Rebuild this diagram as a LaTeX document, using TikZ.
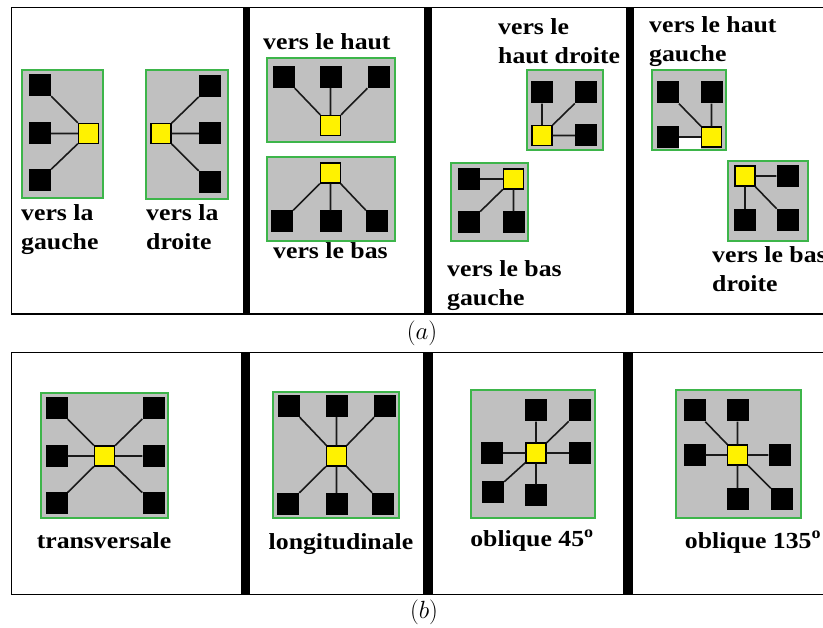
\documentclass[tikz,border=0pt]{standalone}
\usepackage{fontspec}
\newfontfamily\labelfont[FakeStretch=1.12]{Liberation Serif}
\definecolor{modgreen}{HTML}{3DB54A}
\definecolor{modgray}{HTML}{C0C0C0}
\definecolor{hubyellow}{HTML}{FFF200}
\tikzset{
  panel/.style={draw=black, line width=1.6},
  bar/.style={fill=black},
  module/.style={draw=modgreen, fill=modgray, line width=1.4},
  pin/.style={fill=black, minimum size=22, inner sep=0},
  hub/.style={draw=black, fill=hubyellow, line width=1.3, minimum size=20, inner sep=0},
  wire/.style={black!90, line width=1.6},
  lbl/.style={font=\labelfont\bfseries\fontsize{23}{28.5}\selectfont, align=left, inner sep=0, anchor=base west},
  lblc/.style={lbl, anchor=base},
  capt/.style={font=\fontsize{28}{32}\selectfont, inner sep=0}
}

\begin{document}
\begin{tikzpicture}[x=1pt, y=-1pt]
    \useasboundingbox (0,0) rectangle (823,628);
    % cadres
    \draw[panel] (11.5,7.5) rectangle (840,314);
    \draw[panel] (11.5,352.5) rectangle (840,594.5);
    \fill[bar] (243,7) rectangle (250,314);
    \fill[bar] (424,7) rectangle (432,314);
    \fill[bar] (626,7) rectangle (634,314);
    \fill[bar] (241,352) rectangle (250,595);
    \fill[bar] (423,352) rectangle (433,595);
    \fill[bar] (623,352) rectangle (633,595);

    % vers la gauche / vers la droite
    \draw[module] (22,70) rectangle (103,198);
    \node[hub] (lc) at (88.5,133.5) {};
    \node[pin] (l1) at (40,85) {}; \node[pin] (l2) at (40,133.5) {}; \node[pin] (l3) at (40,180) {};
    \draw[wire] (lc) -- (l1) (lc) -- (l2) (lc) -- (l3);
    \draw[module] (146,70) rectangle (228,199);
    \node[hub] (rc) at (161,133.5) {};
    \node[pin] (r1) at (210,86) {}; \node[pin] (r2) at (210,133.5) {}; \node[pin] (r3) at (210,182) {};
    \draw[wire] (rc) -- (r1) (rc) -- (r2) (rc) -- (r3);
    \node[lbl] (txtl) at (21,249.5) {vers la\\gauche};
    \node[lbl] (txtr) at (146,249.5) {vers la\\droite};

    % vers le haut / vers le bas
    \draw[module] (267,58) rectangle (395,142);
    \node[hub] (uc) at (330.5,125.5) {};
    \node[pin] (u1) at (284,77) {}; \node[pin] (u2) at (330.5,77) {}; \node[pin] (u3) at (378.5,77) {};
    \draw[wire] (uc) -- (u1) (uc) -- (u2) (uc) -- (u3);
    \draw[module] (267,157) rectangle (395,241);
    \node[hub] (dc) at (330.5,173) {};
    \node[pin] (d1) at (282,221.5) {}; \node[pin] (d2) at (330.5,221.5) {}; \node[pin] (d3) at (376.5,221.5) {};
    \draw[wire] (dc) -- (d1) (dc) -- (d2) (dc) -- (d3);
    \node[lbl] (txtu) at (263,50) {vers le haut};
    \node[lbl] (txtd) at (273,259) {vers le bas};

    % diagonales montantes
    \draw[module] (527,70) rectangle (603,150);
    \node[hub] (urc) at (542,135.5) {};
    \node[pin] (ur1) at (542,92.5) {}; \node[pin] (ur2) at (586,92.5) {}; \node[pin] (ur3) at (586,135.5) {};
    \draw[wire] (urc) -- (ur1) (urc) -- (ur2) (urc) -- (ur3);
    \draw[module] (451,163) rectangle (528,241);
    \node[hub] (dlc) at (513.5,179) {};
    \node[pin] (dl1) at (469,179) {}; \node[pin] (dl2) at (469,222.5) {}; \node[pin] (dl3) at (513.5,222.5) {};
    \draw[wire] (dlc) -- (dl1) (dlc) -- (dl2) (dlc) -- (dl3);
    \node[lbl] (txtur) at (498,63.5) {vers le\\haut droite};
    \node[lbl] (txtdl) at (447,305.5) {vers le bas\\gauche};

    % diagonales descendantes
    \draw[module] (652,70) rectangle (726,150);
    \fill[white] (679,138) rectangle (701,149.3);
    \node[hub] (ulc) at (711.5,137) {};
    \node[pin] (ul1) at (668,92.5) {}; \node[pin] (ul2) at (711.5,92.5) {}; \node[pin] (ul3) at (668,137) {};
    \draw[wire] (ulc) -- (ul1) (ulc) -- (ul2) (ulc) -- (ul3);
    \draw[module] (728,161) rectangle (808,241);
    \node[hub] (drc) at (745,176) {};
    \node[pin] (dr1) at (787.5,176) {}; \node[pin] (dr2) at (745,220) {}; \node[pin] (dr3) at (787.5,220) {};
    \draw[wire] (drc) -- (dr1) (drc) -- (dr2) (drc) -- (dr3);
    \node[lbl] (txtul) at (649,61.5) {vers le haut\\gauche};
    \node[lbl] (txtdr) at (712,291.5) {vers le bas\\droite};

    \node[capt] (capa) at (422,333) {$(a)$};

    % transversale
    \draw[module] (41,393) rectangle (168,518);
    \node[hub] (tc) at (104.5,456) {};
    \node[pin] (t1) at (56.5,408) {}; \node[pin] (t2) at (153.5,408) {};
    \node[pin] (t3) at (56.5,456) {}; \node[pin] (t4) at (153.5,456) {};
    \node[pin] (t5) at (56.5,503.5) {}; \node[pin] (t6) at (153.5,503.5) {};
    \draw[wire] (tc) -- (t1) (tc) -- (t2) (tc) -- (t3) (tc) -- (t4) (tc) -- (t5) (tc) -- (t6);
    \node[lblc] (txtt) at (104,548) {transversale};

    % longitudinale
    \draw[module] (273,392) rectangle (399,518);
    \node[hub] (gc) at (336.5,456) {};
    \node[pin] (g1) at (289,406) {}; \node[pin] (g2) at (336.5,406) {}; \node[pin] (g3) at (385,406) {};
    \node[pin] (g4) at (288,504) {}; \node[pin] (g5) at (336.5,504) {}; \node[pin] (g6) at (383,504) {};
    \draw[wire] (gc) -- (g1) (gc) -- (g2) (gc) -- (g3) (gc) -- (g4) (gc) -- (g5) (gc) -- (g6);
    \node[lblc] (txtg) at (341,550) {longitudinale};

    % oblique 45
    \draw[module] (471,390) rectangle (595,518);
    \node[hub] (pc) at (536,453) {};
    \node[pin] (p1) at (536,410.5) {}; \node[pin] (p2) at (580,410.5) {};
    \node[pin] (p3) at (492,453) {}; \node[pin] (p4) at (580,453) {};
    \node[pin] (p5) at (493,492) {}; \node[pin] (p6) at (536,495.5) {};
    \draw[wire] (pc) -- (p1) (pc) -- (p2) (pc) -- (p3) (pc) -- (p4) (pc) -- (p5) (pc) -- (p6);
    \node[lblc] (txtp) at (532,547) {oblique 45\textsuperscript{o}};

    % oblique 135
    \draw[module] (676,390) rectangle (801,518);
    \node[hub] (qc) at (737.5,455) {};
    \node[pin] (q1) at (694.5,410.5) {}; \node[pin] (q2) at (737.5,410.5) {};
    \node[pin] (q3) at (694.5,455) {}; \node[pin] (q4) at (779.5,455) {};
    \node[pin] (q5) at (737.5,499.5) {}; \node[pin] (q6) at (782,499.5) {};
    \draw[wire] (qc) -- (q1) (qc) -- (q2) (qc) -- (q3) (qc) -- (q4) (qc) -- (q5) (qc) -- (q6);
    \node[lblc] (txtq) at (753,548) {oblique 135\textsuperscript{o}};

    \node[capt] (capb) at (424,612) {$(b)$};
  \end{tikzpicture}
\end{document}
